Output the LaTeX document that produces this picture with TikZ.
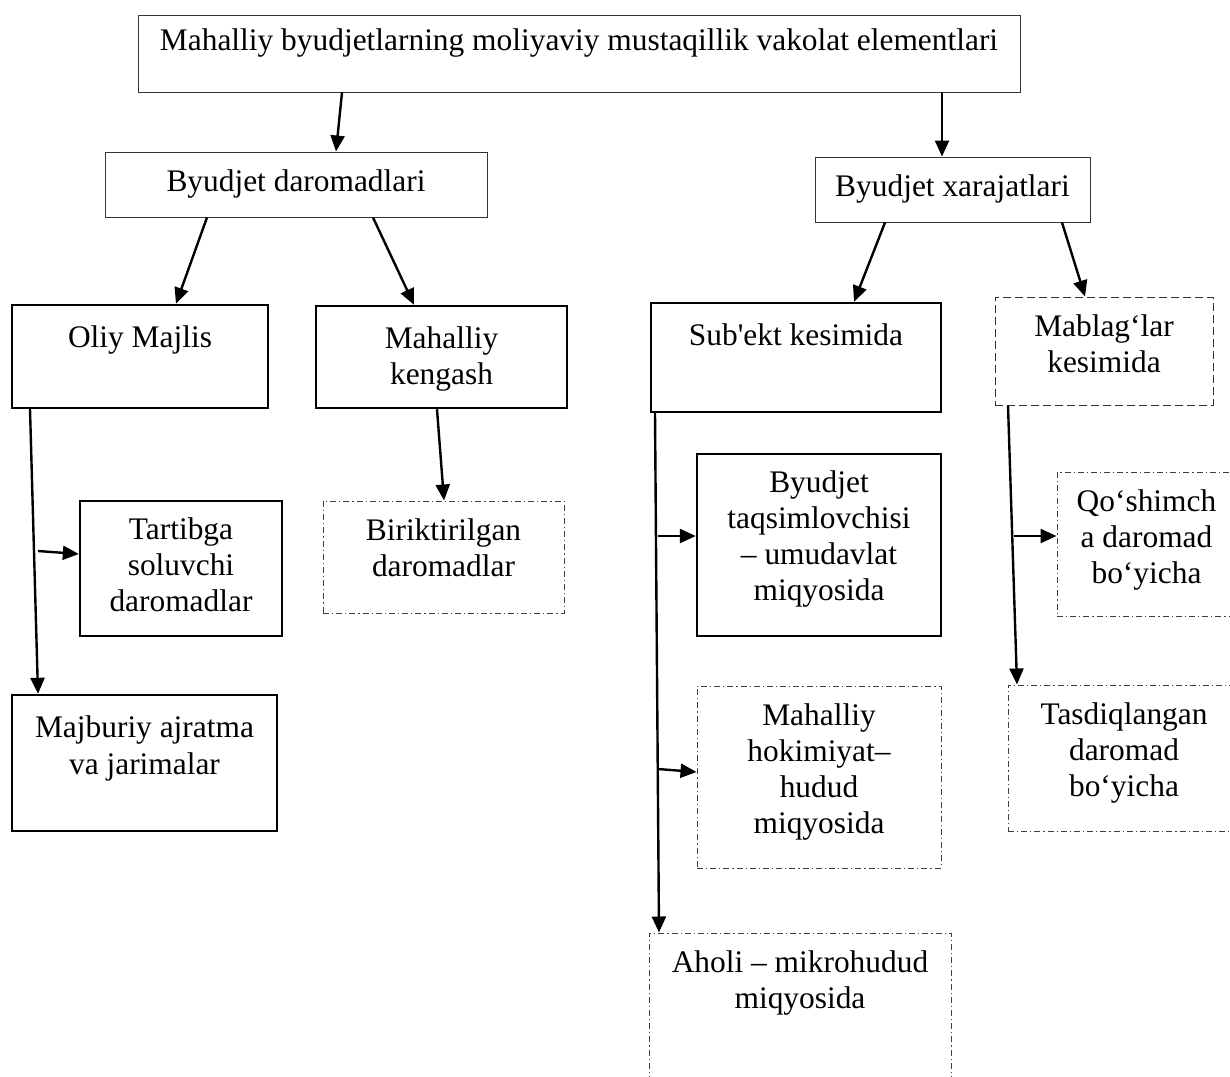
\documentclass[tikz,border=0pt]{standalone}
\usepackage{fontspec}
\setmainfont{Liberation Serif}[Ligatures=TeXOff]
\usetikzlibrary{arrows.meta,fit}

\begin{document}
\begin{tikzpicture}[x=0.5pt,y=-0.5pt,
    every node/.style={font=\fontsize{15.7}{18}\selectfont},
    box/.style={draw,inner sep=0pt},
    plain/.style={box,line width=0.5pt,draw=black!80},
    bold/.style={box,line width=1.2pt},
    dashdot/.style={box,line width=0.5pt,draw=black!75,dash pattern=on 3pt off 1.5pt on 0.6pt off 1.5pt},
    dashbox/.style={box,line width=0.5pt,draw=black!80,dash pattern=on 4pt off 2pt},
    txt/.style={anchor=north,align=center,inner sep=0pt,yshift=-8.8pt},
    low/.style={txt,yshift=-2.2pt},
    link/.style={line width=1.2pt,-{Triangle[length=8pt,width=7pt]}}]
    \useasboundingbox (0,0) rectangle (1230,1076);
    \clip (0,0) rectangle (1230,1076);
    % top level
    \node[plain,fit={(138,15) (1020,92)},label={[txt,yshift=1.8pt]north:Mahalliy byudjetlarning moliyaviy mustaqillik vakolat elementlari}] (root) {};
    \node[plain,fit={(105,152) (487,217)},label={[txt]north:Byudjet daromadlari}] (dar) {};
    \node[plain,fit={(815,157) (1090,222)},label={[txt]north:Byudjet xarajatlari}] (xar) {};
    % daromadlar side
    \node[bold,fit={(12,305) (268,408)},label={[low]north:Oliy Majlis}] (om) {};
    \node[bold,fit={(316,306) (567,408)},label={[low]north:Mahalliy\\kengash}] (mk) {};
    \node[bold,fit={(80,501) (282,636)},label={[txt]north:Tartibga\\soluvchi\\daromadlar}] (tr) {};
    \node[dashdot,fit={(323,501) (564,613)},label={[txt]north:Biriktirilgan\\daromadlar}] (bi) {};
    \node[bold,fit={(12,695) (277,831)},label={[low]north:Majburiy ajratma\\va jarimalar}] (mj) {};
    % xarajatlar side
    \node[bold,fit={(651,303) (941,412)},label={[low]north:Sub'ekt kesimida}] (se) {};
    \node[dashbox,fit={(995,297) (1213,405)},label={[txt]north:Mablag‘lar\\kesimida}] (mb) {};
    \node[bold,fit={(697,454) (941,636)},label={[txt]north:Byudjet\\taqsimlovchisi\\– umudavlat\\miqyosida}] (bt) {};
    \node[dashdot,fit={(697,686) (941,868)},label={[txt]north:Mahalliy\\hokimiyat–\\hudud\\miqyosida}] (mh) {};
    \node[dashdot,fit={(649,933) (951,1110)},label={[txt]north:Aholi – mikrohudud\\miqyosida}] (ah) {};
    \node[dashdot,fit={(1057,472) (1236,616)},label={[txt]north:Qo‘shimch\\a daromad\\bo‘yicha}] (qo) {};
    \node[dashdot,fit={(1008,685) (1240,831)},label={[txt]north:Tasdiqlangan\\daromad\\bo‘yicha}] (ts) {};
    % arrows
    \draw[link] (root.south -| 342,0) -- (dar.north -| 336,0);
    \draw[link] (root.south -| 942,0) -- (xar.north -| 942,0);
    \draw[link] (dar.south -| 207,0) -- (om.north -| 176,0);
    \draw[link] (dar.south -| 373,0) -- (mk.north -| 414,0);
    \draw[link] (xar.south -| 885,0) -- (se.north -| 854,0);
    \draw[link] (xar.south -| 1062,0) -- (mb.north -| 1085,0);
    \draw[link] (om.south -| 30,0) -- (mj.north -| 38,0);
    \draw[link] (mk.south -| 437,0) -- (bi.north -| 444,0);
    \draw[link] (se.south -| 655,0) -- (ah.north -| 659,0);
    \draw[link] (mb.south -| 1008,0) -- (ts.north -| 1017,0);
    % branches
    \coordinate (om-b) at (38,551);
    \coordinate (se-b1) at (658,536);
    \coordinate (se-b2) at (658,769);
    \coordinate (mb-b) at (1014,536);
    \draw[link] (om-b) -- (tr.west |- 0,554);
    \draw[link] (se-b1) -- (bt.west |- 0,536);
    \draw[link] (se-b2) -- (mh.west |- 0,772);
    \draw[link] (mb-b) -- (qo.west |- 0,536);
\end{tikzpicture}
\end{document}
